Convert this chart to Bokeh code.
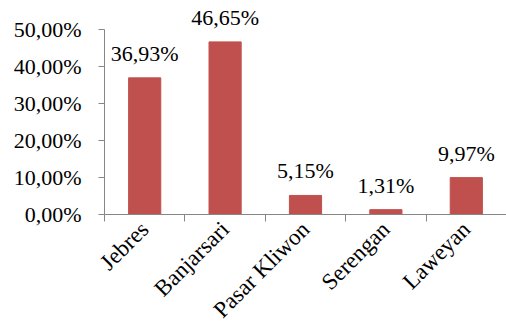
import numpy as np
from bokeh.plotting import figure
from bokeh.models import Range1d, FixedTicker, ColumnDataSource, LabelSet
from bokeh.embed import file_html
from bokeh.resources import INLINE

districts = ["Jebres", "Banjarsari", "Pasar Kliwon", "Serengan", "Laweyan"]
shares = [36.93, 46.65, 5.15, 1.31, 9.97]
y_ticks = [0, 10, 20, 30, 40, 50]


def pct(v):
    return f"{v:.2f}%".replace(".", ",")


FONT = "Liberation Serif"
FS = "22px"
FS_CAT = "23px"
GRAY = "#868686"
BAR = "#C0504D"

# layout: frame top at y=3, axis max (50) at y=29, zero at y=214
TOP_BORDER = 3
Y_END = 50 * (214 - TOP_BORDER) / (214 - 29)

xpos = np.arange(len(districts)) + 0.5
src = ColumnDataSource(dict(x=xpos, top=shares, lab=[pct(v) for v in shares]))

p = figure(width=506, height=334, x_range=Range1d(0, len(districts)), y_range=Range1d(0, Y_END),
           output_backend="svg", toolbar_location=None,
           min_border_left=104, min_border_right=0, min_border_top=TOP_BORDER, min_border_bottom=120)
p.title.visible = False
p.outline_line_color = None
p.xgrid.visible = False
p.ygrid.visible = False
p.background_fill_color = "white"
p.border_fill_color = "white"

p.vbar(x="x", top="top", width=0.4, source=src, fill_color=BAR, line_color=BAR)

labels = LabelSet(x="x", y="top", text="lab", source=src, text_align="center",
                  text_baseline="alphabetic", y_offset=17, text_font=FONT,
                  text_font_size=FS, text_color="black")
p.add_layout(labels)

ya = p.yaxis[0]
ya.ticker = FixedTicker(ticks=y_ticks)
ya.bounds = (min(y_ticks), max(y_ticks))
ya.major_label_overrides = {t: pct(t) for t in y_ticks}
ya.major_tick_out = 6
ya.major_tick_in = 0
ya.minor_tick_line_color = None
ya.axis_line_color = GRAY
ya.major_tick_line_color = GRAY
ya.major_label_text_font = FONT
ya.major_label_text_font_size = FS
ya.major_label_text_color = "black"
ya.major_label_standoff = 17

xa = p.xaxis[0]
xa.ticker = FixedTicker(ticks=[float(v) for v in xpos],
                        minor_ticks=[float(i) for i in range(len(districts) + 1)])
xa.major_label_overrides = {float(v): d for v, d in zip(xpos, districts)}
xa.major_tick_line_color = None
xa.minor_tick_line_color = GRAY
xa.minor_tick_out = 7
xa.minor_tick_in = 0
xa.axis_line_color = GRAY
xa.major_label_orientation = np.pi / 4
xa.major_label_text_font = FONT
xa.major_label_text_font_size = FS_CAT
xa.major_label_text_color = "black"
xa.major_label_standoff = 4

open("out.html", "w").write(file_html(p, INLINE))
